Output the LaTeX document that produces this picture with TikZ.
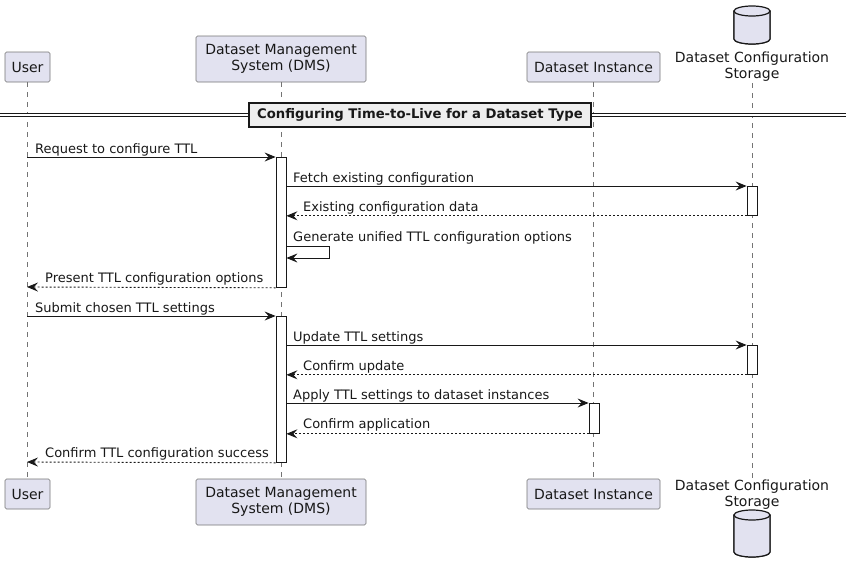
\documentclass[tikz,border=0pt]{standalone}
\usepackage{fontspec}
\setmainfont{DejaVu Sans}
\usetikzlibrary{positioning, arrows.meta, calc}
\definecolor{partfill}{RGB}{226,226,240}
\definecolor{ink}{RGB}{24,24,24}
\definecolor{divfill}{RGB}{238,238,238}

\begin{document}
\begin{tikzpicture}[
    x=1pt, y=-1pt,
    every node/.style={text=ink},
    part/.style={draw=ink!60, fill=partfill, rounded corners=1.5pt, line width=0.6pt, inner sep=0pt, align=center, font=\fontsize{14}{16}\selectfont},
    dblbl/.style={inner sep=0pt, align=center, font=\fontsize{14}{16}\selectfont},
    dbshape/.style={draw=ink, fill=partfill, line width=1.2pt},
    life/.style={draw=ink!60, line width=0.5pt, dash pattern=on 5pt off 5pt},
    actbar/.style={draw=ink, fill=white, line width=0.8pt, minimum width=10pt, inner sep=0pt, anchor=north},
    msg/.style={draw=ink, line width=0.9pt, -{Stealth[length=11pt,width=9pt,inset=4pt]}},
    reply/.style={msg, dash pattern=on 2pt off 2pt},
    msglbl/.style={anchor=base west, inner sep=0pt, font=\fontsize{13}{15}\selectfont},
    divline/.style={draw=ink, line width=1pt, double=white, double distance=2.5pt},
    divbox/.style={draw=ink, fill=divfill, line width=1.6pt, minimum width=342pt, minimum height=24pt, inner sep=0pt, font=\bfseries\fontsize{13.2}{15}\selectfont},
]
\useasboundingbox (0,0) rectangle (846,573);

% --------------------------------------------------------- participants ---
\node[part, minimum width=45pt, minimum height=30pt] (user) at (27.5,67) {User};
\node[part, minimum width=170pt, minimum height=46pt] (dms) at (281,59) {Dataset Management\\System (DMS)};
\node[part, minimum width=133pt, minimum height=30pt] (inst) at (593.5,67) {Dataset Instance};
\node[dblbl] (store) at (752,67) {Dataset Configuration\\Storage};
\fill[dbshape] (734,11) -- (734,39) arc[start angle=180, end angle=0, x radius=18, y radius=5] -- (770,11) -- cycle;
\draw[dbshape] (734,11) -- (734,39) arc[start angle=180, end angle=0, x radius=18, y radius=5] -- (770,11);
\draw[dbshape] (752,11) ellipse[x radius=18, y radius=5];

\node[part, minimum width=45pt, minimum height=30pt] (userB) at (27.5,494) {User};
\node[part, minimum width=170pt, minimum height=46pt] (dmsB) at (281,502) {Dataset Management\\System (DMS)};
\node[part, minimum width=133pt, minimum height=30pt] (instB) at (593.5,494) {Dataset Instance};
\node[dblbl] (storeB) at (752,495) {Dataset Configuration\\Storage};
\fill[dbshape] (734,515) -- (734,552) arc[start angle=180, end angle=0, x radius=18, y radius=5] -- (770,515) -- cycle;
\draw[dbshape] (734,515) -- (734,552) arc[start angle=180, end angle=0, x radius=18, y radius=5] -- (770,515);
\draw[dbshape] (752,515) ellipse[x radius=18, y radius=5];

% ------------------------------------------------------------ lifelines ---
\coordinate (storeTop) at (752,83);
\coordinate (storeBot) at (752,479);
\draw[life] (user) -- (userB);
\draw[life] (dms) -- (dmsB);
\draw[life] (inst) -- (instB);
\draw[life] (storeTop) -- (storeBot);

% -------------------------------------------------------------- divider ---
\coordinate (divL) at (0,115);
\coordinate (divR) at (846,115);
\draw[divline] (divL) -- (divR);
\node[divbox] (div) at (420,115) {Configuring Time-to-Live for a Dataset Type};

% ----------------------------------------------------- activation bars ---
\node[actbar, minimum height=130pt] (dmsA) at (281,157) {};
\node[actbar, minimum height=146pt] (dmsA2) at (281,316) {};
\node[actbar, minimum height=29pt] (storeA) at (752,186) {};
\node[actbar, minimum height=29pt] (storeA2) at (752,345) {};
\node[actbar, minimum height=30pt] (instA) at (594,403) {};

% ---------------------------------------------------------- first round ---
\coordinate (u1) at (27,157);
\draw[msg] (u1) -- (dmsA.north west);
\node[msglbl] (l1) at (35,153) {Request to configure TTL};

\draw[msg] (dmsA.east |- storeA.north) -- (storeA.north west);
\node[msglbl] (l2) at (293,182) {Fetch existing configuration};

\draw[reply] (storeA.south west) -- (dmsA.east |- storeA.south);
\node[msglbl] (l3) at (303,211) {Existing configuration data};

\node[msglbl] (l4) at (293,241) {Generate unified TTL configuration options};
\coordinate (selfA) at (329,246);
\coordinate (selfB) at (329,258);
\draw[msg] (dmsA.east |- selfA) -- (selfA) -- (selfB) -- (dmsA.east |- selfB);

\coordinate (u2) at (27,287);
\draw[reply] (dmsA.south west) -- (u2);
\node[msglbl] (l5) at (45,282) {Present TTL configuration options};

% --------------------------------------------------------- second round ---
\coordinate (u3) at (27,316);
\draw[msg] (u3) -- (dmsA2.north west);
\node[msglbl] (l6) at (35,312) {Submit chosen TTL settings};

\draw[msg] (dmsA2.east |- storeA2.north) -- (storeA2.north west);
\node[msglbl] (l7) at (293,341) {Update TTL settings};

\draw[reply] (storeA2.south west) -- (dmsA2.east |- storeA2.south);
\node[msglbl] (l8) at (303,370) {Confirm update};

\draw[msg] (dmsA2.east |- instA.north) -- (instA.north west);
\node[msglbl] (l9) at (293,399) {Apply TTL settings to dataset instances};

\draw[reply] (instA.south west) -- (dmsA2.east |- instA.south);
\node[msglbl] (l10) at (303,428) {Confirm application};

\coordinate (u4) at (27,462);
\draw[reply] (dmsA2.south west) -- (u4);
\node[msglbl] (l11) at (45,457) {Confirm TTL configuration success};

\end{tikzpicture}
\end{document}
